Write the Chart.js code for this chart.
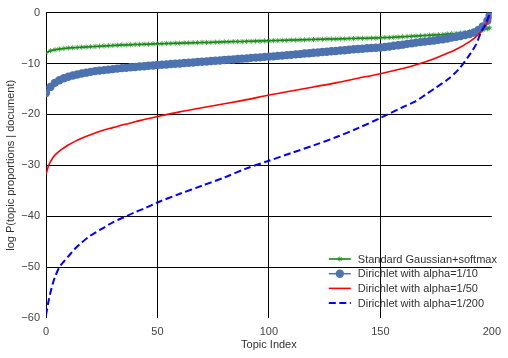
<!DOCTYPE html>
<html>
<head>
<meta charset="utf-8">
<script src="https://cdn.jsdelivr.net/npm/chart.js@4.4.1/dist/chart.umd.min.js"></script>
<style>
  html, body { margin: 0; padding: 0; background: #fff; }
  canvas { display: block; }
</style>
</head>
<body>
<canvas id="topic-chart" width="508" height="358"></canvas>
<script>
// topic indices for the marker series (every 2nd topic)
const markIdx = [0, 2, 4, 6, 8, 10, 12, 14, 16, 18, 20, 22, 24, 26, 28, 30, 32, 34, 36, 38,
    40, 42, 44, 46, 48, 50, 52, 54, 56, 58, 60, 62, 64, 66, 68, 70, 72, 74, 76, 78,
    80, 82, 84, 86, 88, 90, 92, 94, 96, 98, 100, 102, 104, 106, 108, 110, 112, 114, 116, 118,
    120, 122, 124, 126, 128, 130, 132, 134, 136, 138, 140, 142, 144, 146, 148, 150, 152, 154, 156, 158,
    160, 162, 164, 166, 168, 170, 172, 174, 176, 178, 180, 182, 184, 186, 188, 190, 192, 194, 196, 198, 199];

const gaussSoftmax = [-7.9, -7.5, -7.3, -7.15, -7.05, -6.95, -6.9, -6.85, -6.8, -6.75,
    -6.7, -6.65, -6.6, -6.55, -6.5, -6.45, -6.4, -6.35, -6.35, -6.3,
    -6.25, -6.25, -6.2, -6.2, -6.15, -6.1, -6.1, -6.05, -6.05, -6.0,
    -6.0, -5.95, -5.95, -5.9, -5.9, -5.85, -5.85, -5.85, -5.8, -5.8,
    -5.75, -5.75, -5.7, -5.7, -5.7, -5.65, -5.65, -5.6, -5.6, -5.55,
    -5.55, -5.5, -5.5, -5.45, -5.45, -5.4, -5.4, -5.35, -5.35, -5.3,
    -5.3, -5.25, -5.25, -5.2, -5.2, -5.2, -5.15, -5.15, -5.1, -5.1,
    -5.05, -5.05, -5.05, -5.0, -5.0, -4.95, -4.9, -4.9, -4.85, -4.8,
    -4.75, -4.7, -4.65, -4.6, -4.55, -4.5, -4.45, -4.4, -4.35, -4.3,
    -4.2, -4.15, -4.1, -4.0, -3.9, -3.8, -3.7, -3.55, -3.4, -3.2, -3.0];

const dirichlet10 = [-15.8, -14.6, -13.8, -13.3, -12.9, -12.6, -12.35, -12.15, -11.95, -11.8,
    -11.65, -11.5, -11.4, -11.3, -11.2, -11.1, -11.0, -10.9, -10.85, -10.75,
    -10.7, -10.6, -10.55, -10.45, -10.4, -10.3, -10.25, -10.2, -10.1, -10.05,
    -10.0, -9.9, -9.85, -9.8, -9.7, -9.65, -9.6, -9.5, -9.45, -9.4,
    -9.3, -9.25, -9.2, -9.1, -9.05, -9.0, -8.9, -8.85, -8.8, -8.7,
    -8.65, -8.6, -8.5, -8.45, -8.35, -8.3, -8.2, -8.15, -8.05, -8.0,
    -7.9, -7.85, -7.75, -7.7, -7.6, -7.55, -7.45, -7.4, -7.3, -7.2,
    -7.15, -7.1, -7.0, -6.95, -6.9, -6.85, -6.75, -6.65, -6.5, -6.4,
    -6.3, -6.15, -6.05, -5.9, -5.8, -5.7, -5.6, -5.5, -5.35, -5.25,
    -5.1, -4.9, -4.75, -4.6, -4.4, -4.2, -3.9, -3.4, -2.7, -1.6, -0.6];

// topic indices for the plain line series
const lineIdx = [0, 1, 2, 3, 4, 6, 8, 10, 13, 16, 20, 25, 30, 35, 40, 45, 50, 60, 70, 80,
    90, 100, 110, 120, 130, 140, 150, 160, 165, 170, 175, 180, 185, 190, 193, 195, 197, 198, 199];

const dirichlet50 = [-31.8, -30.3, -29.3, -28.6, -28.0, -27.2, -26.6, -26.0, -25.3, -24.7,
    -24.0, -23.2, -22.6, -22.0, -21.45, -20.9, -20.4, -19.5, -18.7, -17.9,
    -17.1, -16.2, -15.4, -14.6, -13.8, -12.9, -12.0, -11.0, -10.4, -9.7,
    -8.9, -8.0, -7.0, -5.7, -4.7, -3.8, -2.7, -1.9, -0.6];

const dirichlet200 = [-59.5, -57.0, -55.0, -53.3, -52.0, -50.0, -48.9, -47.9, -46.4, -45.2,
    -43.8, -42.5, -41.2, -40.2, -39.2, -38.3, -37.3, -35.6, -34.0, -32.4,
    -30.6, -29.1, -27.6, -26.1, -24.5, -22.7, -20.7, -18.6, -17.6, -16.2,
    -14.7, -13.2, -11.2, -8.3, -6.2, -4.0, -2.4, -1.4, -0.3];

const seriesNames = ["Standard Gaussian+softmax", "Dirichlet with alpha=1/10",
    "Dirichlet with alpha=1/50", "Dirichlet with alpha=1/200"];

const xTitle = "Topic Index";
const yTitle = "log P(topic proportions | document)";

function toPoints(xs, ys) {
    return xs.map((x, i) => ({ x: x, y: ys[i] }));
}

const fontFamily = "'Liberation Sans', Arial, sans-serif";

// legend inside the plot, bottom right, with line + marker samples
const insideLegend = {
    id: 'insideLegend',
    afterDraw(chart) {
        const { ctx, chartArea } = chart;
        const x0 = chartArea.right - 163;
        const y0 = chartArea.bottom - 59;
        const rowH = 14.7;
        ctx.save();
        ctx.font = "11px " + fontFamily;
        ctx.textBaseline = 'middle';
        chart.data.datasets.forEach((ds, i) => {
            const y = y0 + i * rowH;
            ctx.beginPath();
            ctx.strokeStyle = ds.borderColor;
            ctx.lineWidth = ds.borderWidth;
            ctx.setLineDash(ds.borderDash || []);
            ctx.moveTo(x0, y);
            ctx.lineTo(x0 + 22, y);
            ctx.stroke();
            ctx.setLineDash([]);
            if (ds.pointRadius > 0) {
                ctx.fillStyle = ds.pointBackgroundColor;
                ctx.strokeStyle = ds.pointBorderColor;
                ctx.lineWidth = ds.pointBorderWidth;
                Chart.helpers.drawPoint(ctx, {
                    pointStyle: ds.pointStyle,
                    radius: ds.pointRadius,
                    borderWidth: ds.pointBorderWidth,
                    rotation: 0
                }, x0 + 11, y);
            }
            ctx.fillStyle = '#333';
            ctx.fillText(ds.label, x0 + 29, y + 0.5);
        });
        ctx.restore();
    }
};

const ctx = document.getElementById('topic-chart').getContext('2d');

new Chart(ctx, {
    type: 'line',
    data: {
        datasets: [{
            label: seriesNames[0],
            data: toPoints(markIdx, gaussSoftmax),
            borderColor: '#008000',
            borderWidth: 1.5,
            pointStyle: 'star',
            pointRadius: 2.6,
            pointBorderWidth: 1,
            pointBorderColor: 'rgba(30,140,30,0.75)',
            pointBackgroundColor: '#008000',
            order: 4
        }, {
            label: seriesNames[1],
            data: toPoints(markIdx, dirichlet10),
            borderColor: '#4C72B0',
            borderWidth: 1.5,
            pointStyle: 'circle',
            pointRadius: 4.2,
            pointBorderWidth: 0,
            pointBorderColor: '#4C72B0',
            pointBackgroundColor: '#4C72B0',
            order: 3
        }, {
            label: seriesNames[2],
            data: toPoints(lineIdx, dirichlet50),
            borderColor: '#FF0000',
            borderWidth: 1.6,
            pointRadius: 0,
            tension: 0.3,
            order: 2
        }, {
            label: seriesNames[3],
            data: toPoints(lineIdx, dirichlet200),
            borderColor: '#0000FF',
            borderWidth: 2,
            borderDash: [7, 3.5],
            pointRadius: 0,
            tension: 0.3,
            order: 1
        }]
    },
    options: {
        responsive: false,
        animation: false,
        layout: { padding: { top: 12, right: 16, left: 0, bottom: 0 } },
        scales: {
            x: {
                type: 'linear',
                min: 0,
                max: 200,
                ticks: {
                    stepSize: 50,
                    color: '#444',
                    padding: 7,
                    font: { family: fontFamily, size: 11 }
                },
                grid: {
                    color: (c) => c.tick && c.tick.value === 200 ? 'rgba(0,0,0,0)' : '#000',
                    lineWidth: 1,
                    drawTicks: false,
                    tickLength: 0
                },
                border: { display: false },
                title: {
                    display: true,
                    text: xTitle,
                    color: '#333',
                    padding: { top: 0, bottom: 6 },
                    font: { family: fontFamily, size: 11 }
                },
                afterFit: (scale) => { scale.height = 40; }
            },
            y: {
                min: -60,
                max: 0,
                ticks: {
                    stepSize: 10,
                    color: '#444',
                    padding: 6,
                    font: { family: fontFamily, size: 11 },
                    callback: (v) => v < 0 ? '\u2212' + Math.abs(v) : String(v)
                },
                grid: {
                    color: (c) => c.tick && c.tick.value === -60 ? 'rgba(0,0,0,0)' : '#000',
                    lineWidth: 1,
                    drawTicks: false,
                    tickLength: 0
                },
                border: { display: false },
                title: {
                    display: true,
                    text: yTitle,
                    color: '#333',
                    padding: { top: 4, bottom: 0 },
                    font: { family: fontFamily, size: 11 }
                },
                afterFit: (scale) => { scale.width = 46; }
            }
        },
        plugins: {
            legend: { display: false },
            tooltip: { enabled: false }
        }
    },
    plugins: [insideLegend]
});
</script>
</body>
</html>
